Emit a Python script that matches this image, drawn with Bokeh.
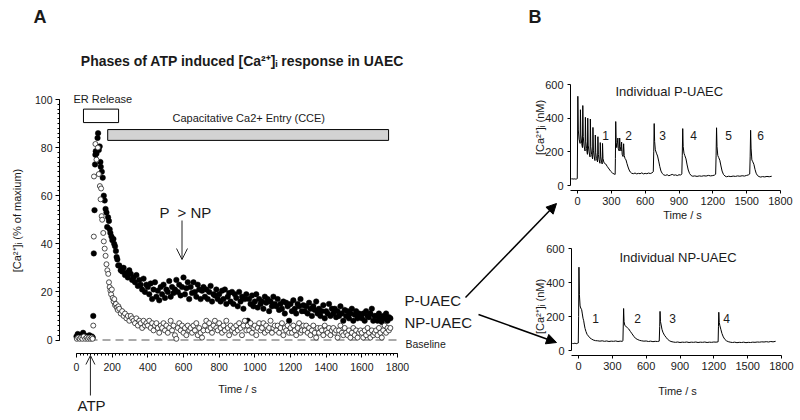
import math
from bokeh.plotting import figure
from bokeh.models import Range1d, LinearAxis, FixedTicker, Arrow, OpenHead, NormalHead
from bokeh.core.properties import value
from bokeh.embed import file_html
from bokeh.resources import INLINE

# ---------------- Panel A data: % of maximum [Ca2+]i ----------------
p_rise_time = [0, 7, 14, 21, 28, 37, 44, 51, 58, 65, 72, 79, 86, 91,
               94, 97, 101, 104, 106, 108, 112, 118, 121, 125,
               130, 134, 136, 142, 147, 153, 158, 163, 168, 172,
               177, 182, 186, 190, 196, 201, 207, 211, 216, 221,
               225, 229, 234]
p_rise = [1.5, 2.5, 1, 2, 1.5, 3, 2, 1, 1.5, 1, 2, 1, 1.5, 1,
          10, 36, 54, 73, 77, 78.5, 77.5, 84, 86, 79,
          80.5, 74, 72, 70, 67.5, 60, 58, 54.5, 53, 47,
          51, 49.5, 46, 44.5, 43, 41.5, 42, 40, 39, 37,
          34.5, 33.5, 31]

np_rise_time = [2, 10, 18, 26, 33, 41, 49, 57, 64, 71, 78, 85, 90,
                94, 97, 98, 106, 112, 120, 125, 131, 135, 138,
                141, 144, 150, 153, 158, 163, 168, 173, 178, 182,
                186, 190, 194, 198, 203, 208, 212, 216, 221, 226,
                231, 235]
np_rise = [0.5, 1, 0.5, 1, 0.5, 1.5, 0.5, 1, 0.5, 1, 0.5, 1, 0.5,
           6, 43, 68, 81.5, 75, 80, 69, 64, 58.5, 63,
           51.5, 50, 44.5, 41, 38, 35, 31.5, 29, 27.5, 24,
           22, 20.5, 19, 21, 17.5, 16, 17, 14.5, 15, 13.5,
           12.5, 14]

tail_time = [240, 248, 256, 264, 272, 280, 288, 296, 304, 312,
             320, 328, 336, 344, 352, 360, 368, 376, 384, 392,
             400, 408, 416, 424, 432, 440, 448, 456, 464, 472,
             480, 488, 496, 504, 512, 520, 528, 536, 544, 552,
             560, 568, 576, 584, 592, 600, 608, 616, 624, 632,
             640, 648, 656, 664, 672, 680, 688, 696, 704, 712,
             720, 728, 736, 744, 752, 760, 768, 776, 784, 792,
             800, 808, 816, 824, 832, 840, 848, 856, 864, 872,
             880, 888, 896, 904, 912, 920, 928, 936, 944, 952,
             960, 968, 976, 984, 992, 1000, 1008, 1016, 1024, 1032,
             1040, 1048, 1056, 1064, 1072, 1080, 1088, 1096, 1104, 1112,
             1120, 1128, 1136, 1144, 1152, 1160, 1168, 1176, 1184, 1192,
             1200, 1208, 1216, 1224, 1232, 1240, 1248, 1256, 1264, 1272,
             1280, 1288, 1296, 1304, 1312, 1320, 1328, 1336, 1344, 1352,
             1360, 1368, 1376, 1384, 1392, 1400, 1408, 1416, 1424, 1432,
             1440, 1448, 1456, 1464, 1472, 1480, 1488, 1496, 1504, 1512,
             1520, 1528, 1536, 1544, 1552, 1560, 1568, 1576, 1584, 1592,
             1600, 1608, 1616, 1624, 1632, 1640, 1648, 1656, 1664, 1672,
             1680, 1688, 1696, 1704, 1712, 1720, 1728, 1736, 1744, 1752,
             1760]

p_tail = [31, 29, 28.5, 30, 27, 28, 26, 29, 27.5, 25,
          26, 24, 27, 22.5, 25, 23, 21, 25.5, 20, 23,
          22, 19, 23.5, 17, 21, 24, 18, 20.5, 16.5, 22,
          19, 23, 17.5, 21, 20, 24.5, 18, 22, 19.5, 21,
          25, 20, 23, 18.5, 22, 26, 19, 21.5, 24, 17,
          22, 19.5, 24, 20, 18, 23, 21, 17, 20.5, 22,
          18, 21, 17, 20, 22.5, 16, 19, 18.5, 21, 17,
          19, 16, 20.5, 17, 21, 15, 18, 19.5, 16, 20,
          15, 19, 17.5, 14, 20, 16, 18, 13, 17, 19,
          8, 17, 15, 18.5, 14, 16, 19, 13.5, 17, 15,
          16, 13, 18, 15.5, 17, 12, 16, 14, 18, 15,
          14, 17, 12.5, 15, 13, 16, 11, 15.5, 14, 8,
          15, 12, 16.5, 13, 11, 15, 14, 17, 12, 14.5,
          12, 14, 11, 15.5, 13, 10, 14, 12.5, 16, 11,
          13, 10, 12, 14.5, 9, 12, 11, 15, 10, 13,
          11, 13, 9.5, 12, 10, 14, 11, 8, 12.5, 10,
          12, 9, 11, 13, 8, 10.5, 12, 9, 11, 10,
          9, 11, 8, 12, 10, 9.5, 11, 13, 8, 10,
          10, 8, 11, 9, 7.5, 10, 9, 11, 8, 9.5,
          9]

np_tail = [13, 11, 12, 10, 11, 9, 10, 8, 10, 9,
           8, 7, 9, 6, 8, 7, 5, 8, 6, 7,
           6, 8, 5, 7, 4, 6, 7, 5, 3, 6,
           5, 7, 4, 6, 3, 5, 8, 4, 6, 2,
           0.5, 5, 7, 4, 6, 3, 5, 2, 6, 4,
           5, 3, 6, 4, 7, 2, 5, 3, 1, 4,
           6, 8, 4, 7, 5, 3, 6, 8, 5, 4,
           7, 5, 3, 6, 4, 8, 5, 2, 6, 4,
           5, 3, 6, 4, 7, 5, 2, 6, 8, 4,
           6, 4, 7, 3, 5, 6, 2, 5, 7, 4,
           5, 7, 3, 6, 4, 5, 8, 3, 5, 6,
           4, 6, 3, 5, 7, 2, 5, 4, 6, 3,
           5, 3, 6, 4, 2, 5, 7, 3, 4, 6,
           4, 6, 3, 5, 2, 4, 6, 3, 1, 5,
           3, 5, 4, 2, 6, 4, 3, 5, 2, 4,
           5, 3, 4, 1, 4, 6, 3, 2, 5, 3,
           2, 4, 1, 3, 5, 2, 4, 1, 3, 4,
           3, 1, 4, 2, 5, 3, 1, 4, 2, 3,
           4, 2, 5, 3, 1, 4, 6, 3, 5, 4,
           5]

phase_names = ["ER Release", "Capacitative Ca2+ Entry (CCE)"]
phase_start = [39, 175]
phase_end = [236, 1750]
phase_bottom = [90.4, 83]
phase_top = [96, 87.5]
phase_fill = ["white", "#d3d3d3"]
atp_time = 78
baseline_level = 0

a_x_ticks = [0, 200, 400, 600, 800, 1000, 1200, 1400, 1600, 1800]
a_y_ticks = [0, 20, 40, 60, 80, 100]

# ---------------- Panel B data: individual cells, nM ----------------
b1_time = [-55, -48, -40, -32, -24, -16, -8, -2, 1, 3,
           7, 14, 23, 26, 30, 37, 44, 47, 51, 58,
           67, 70, 74, 80, 88, 91, 95, 102, 111, 114,
           118, 125, 134, 137, 141, 147, 155, 158, 162, 168,
           178, 181, 185, 191, 199, 202, 206, 212, 219, 222,
           226, 235, 250, 265, 280, 295, 310, 325, 334, 336,
           339, 343, 348, 355, 358, 362, 370, 374, 378, 386,
           391, 396, 404, 409, 414, 422, 430, 438, 448, 458,
           468, 480, 495, 510, 525, 540, 555, 570, 585, 600,
           615, 630, 645, 660, 672, 676, 680, 684, 690, 700,
           710, 720, 730, 740, 752, 765, 780, 795, 810, 825,
           840, 855, 870, 885, 900, 915, 925, 929, 933, 937,
           944, 952, 962, 972, 982, 994, 1008, 1022, 1040, 1060,
           1080, 1100, 1120, 1140, 1160, 1180, 1200, 1215, 1225, 1229,
           1233, 1237, 1244, 1252, 1262, 1272, 1282, 1294, 1308, 1322,
           1340, 1360, 1380, 1400, 1420, 1440, 1460, 1480, 1500, 1515,
           1527, 1531, 1535, 1539, 1546, 1554, 1564, 1574, 1584, 1596,
           1610, 1625, 1640, 1660, 1680, 1700, 1722]
b1_nm = [40, 38, 41, 37, 40, 38, 39, 41, 300, 530,
         330, 275, 250, 450, 300, 250, 225, 475, 290, 235,
         205, 405, 260, 220, 185, 400, 240, 200, 170, 395,
         230, 185, 158, 345, 210, 175, 148, 300, 195, 160,
         140, 290, 185, 155, 132, 255, 170, 145, 128, 250,
         160, 135, 128, 112, 98, 84, 74, 68, 66, 160,
         380, 255, 225, 265, 282, 218, 205, 282, 232, 205,
         258, 185, 172, 248, 178, 160, 152, 132, 110, 92,
         80, 73, 70, 74, 69, 72, 70, 75, 69, 72,
         70, 74, 71, 75, 82, 200, 368, 262, 212, 192,
         175, 145, 112, 86, 71, 63, 60, 64, 58, 62,
         66, 61, 63, 59, 64, 62, 69, 180, 338, 232,
         192, 177, 158, 122, 92, 71, 59, 55, 57, 54,
         57, 55, 58, 56, 60, 57, 59, 62, 67, 180,
         343, 232, 178, 166, 150, 116, 86, 66, 56, 52,
         55, 53, 56, 54, 57, 55, 58, 56, 60, 63,
         68, 170, 328, 222, 152, 141, 126, 96, 73, 59,
         53, 50, 53, 51, 54, 52, 55]

b2_time = [-55, -47, -39, -31, -23, -15, -7, -2, 1, 4,
           8, 14, 20, 28, 34, 40, 46, 52, 58, 66,
           76, 88, 100, 115, 130, 150, 170, 190, 210, 230,
           250, 270, 290, 310, 330, 350, 370, 388, 394, 397,
           400, 404, 411, 420, 432, 445, 460, 475, 490, 505,
           520, 540, 560, 580, 600, 620, 640, 660, 680, 700,
           716, 720, 723, 727, 733, 740, 748, 762, 776, 790,
           805, 820, 840, 860, 880, 900, 920, 940, 960, 980,
           1000, 1020, 1040, 1060, 1080, 1100, 1120, 1140, 1160, 1180,
           1200, 1220, 1238, 1241, 1244, 1248, 1254, 1262, 1272, 1284,
           1298, 1312, 1328, 1345, 1365, 1385, 1405, 1425, 1445, 1465,
           1485, 1505, 1525, 1545, 1565, 1585, 1605, 1625, 1645, 1665,
           1685, 1705, 1725, 1748]
b2_nm = [42, 40, 43, 41, 42, 40, 43, 44, 200, 490,
         330, 262, 250, 240, 215, 190, 175, 150, 130, 112,
         95, 85, 75, 68, 62, 58, 57, 55, 57, 54,
         56, 53, 55, 54, 56, 53, 55, 54, 57, 150,
         247, 170, 147, 142, 135, 127, 112, 98, 84, 72,
         66, 60, 57, 55, 56, 53, 55, 52, 54, 53,
         55, 140, 230, 170, 150, 125, 108, 90, 78, 66,
         58, 53, 50, 48, 50, 47, 49, 48, 50, 47,
         49, 48, 50, 47, 49, 48, 50, 47, 49, 48,
         50, 49, 51, 140, 225, 165, 145, 125, 100, 80,
         65, 57, 52, 49, 47, 49, 46, 48, 47, 49,
         46, 48, 47, 49, 48, 50, 49, 51, 50, 52,
         50, 53, 51, 54]

b_x_ticks = [0, 300, 600, 900, 1200, 1500, 1800]
b_y_ticks = [0, 200, 400, 600]
b1_phase_labels = ["1", "2", "3", "4", "5", "6"]
b2_phase_labels = ["1", "2", "3", "4"]

# ---------------- layout helpers (page pixels) ----------------
W, H = 800, 420
OFF = 0
FONT = "Liberation Sans"
INK = "#1a1a1a"


def hrange(v1, p1, v2, p2):
    k = (p2 - p1) / (v2 - v1)
    s = v1 - (p1 - OFF) / k
    return Range1d(s, s + W / k)


def vrange(v1, p1, v2, p2):
    k = (p1 - p2) / (v2 - v1)
    e = v1 + (p1 - OFF) / k
    return Range1d(e - H / k, e)


p = figure(width=W, height=H, output_backend="svg", toolbar_location=None,
           x_range=Range1d(OFF, OFF + W), y_range=Range1d(OFF + H, OFF),
           x_axis_type=None, y_axis_type=None, min_border=0,
           outline_line_color=None, background_fill_color="white",
           border_fill_color="white")

p.extra_x_ranges = {"ax": hrange(0, 76, 1800, 397),
                    "b1x": hrange(0, 577, 1800, 780),
                    "b2x": hrange(0, 578, 1800, 781)}
p.extra_y_ranges = {"ay": vrange(0, 339.5, 100, 99),
                    "b1y": vrange(0, 185, 600, 84),
                    "b2y": vrange(0, 350, 600, 248)}


def px_to_x(name, px):
    r = p.extra_x_ranges[name]
    return r.start + (px - OFF) * (r.end - r.start) / W


def py_to_y(name, py):
    r = p.extra_y_ranges[name]
    return r.end - (py - OFF) * (r.end - r.start) / H


def add_axes(xn, yn, x_axis_py, y_axis_px, xb, yb, xt, xminor, yt, yminor,
             xfs, yfs, tick_out, xstand, ystand):
    xa = LinearAxis(x_range_name=xn, y_range_name=yn,
                    fixed_location=py_to_y(yn, x_axis_py), bounds=xb,
                    ticker=FixedTicker(ticks=xt, minor_ticks=xminor))
    ya = LinearAxis(x_range_name=xn, y_range_name=yn,
                    fixed_location=px_to_x(xn, y_axis_px), bounds=yb,
                    ticker=FixedTicker(ticks=yt, minor_ticks=yminor))
    for a, fs, st in ((xa, xfs, xstand), (ya, yfs, ystand)):
        a.axis_line_color = "black"
        a.axis_line_width = 1
        a.major_tick_line_color = "black"
        a.minor_tick_line_color = "black"
        a.major_tick_in = 0
        a.major_tick_out = tick_out
        a.minor_tick_in = 0
        a.minor_tick_out = 2
        a.major_label_text_font = FONT
        a.major_label_text_font_size = fs
        a.major_label_text_color = INK
        a.major_label_standoff = st
    p.add_layout(xa, "below")
    p.add_layout(ya, "left")


add_axes("ax", "ay", 353, 59, (0, 1800), (0, 100),
         a_x_ticks, list(range(0, 1801, 20)), a_y_ticks, list(range(0, 101, 2)),
         "10.5px", "10.5px", 4, 5, 3)
add_axes("b1x", "b1y", 190, 570, (-60, 1800), (0, 600),
         b_x_ticks, [], b_y_ticks, [], "11px", "11px", 3, 3, 4)
add_axes("b2x", "b2y", 355, 571, (-60, 1800), (0, 600),
         b_x_ticks, [], b_y_ticks, [], "11px", "11px", 3, 3, 4)

# ---------------- Panel A marks ----------------
p.quad(left=phase_start, right=phase_end, bottom=phase_bottom, top=phase_top,
       fill_color=phase_fill, line_color="black", line_width=1,
       x_range_name="ax", y_range_name="ay")
p.segment(x0=[a_x_ticks[0]], y0=[baseline_level], x1=[a_x_ticks[-1]], y1=[baseline_level],
          line_color="#555555", line_width=1, line_dash="8 5",
          x_range_name="ax", y_range_name="ay")

p.scatter(p_rise_time + tail_time, p_rise + p_tail, marker="circle", size=5.5,
          fill_color="black", line_color="black", line_width=0.5,
          x_range_name="ax", y_range_name="ay")
p.scatter(np_rise_time + tail_time, np_rise + np_tail, marker="circle", size=5,
          fill_color="white", line_color="#222222", line_width=0.8,
          x_range_name="ax", y_range_name="ay")

# ATP arrow (open head) at the stimulation time
p.add_layout(Arrow(end=OpenHead(size=9, line_color="#222222", line_width=1),
                   x_start=atp_time, y_start=py_to_y("ay", 395),
                   x_end=atp_time, y_end=py_to_y("ay", 355),
                   line_color="#222222", line_width=1,
                   x_range_name="ax", y_range_name="ay"))
# P > NP arrow
p.add_layout(Arrow(end=OpenHead(size=11, line_color="#222222", line_width=1),
                   x_start=181.5, y_start=220, x_end=181.5, y_end=259,
                   line_color="#222222", line_width=1))
# arrows to panel B
for xs, ys, xe, ye in ((465, 297, 556, 203), (478, 314, 556, 342)):
    p.add_layout(Arrow(end=NormalHead(size=10, fill_color="black", line_color="black"),
                       x_start=xs, y_start=ys, x_end=xe, y_end=ye,
                       line_color="black", line_width=1.5))

# ---------------- Panel B traces ----------------
p.line(b1_time, b1_nm, line_color="black", line_width=1,
       x_range_name="b1x", y_range_name="b1y")
p.line(b2_time, b2_nm, line_color="black", line_width=1,
       x_range_name="b2x", y_range_name="b2y")


# ---------------- texts ----------------
def txt(xs, ys, texts, size, align="left", bold=False, angle=0.0):
    p.text(x=xs, y=ys, text=texts, text_font=value(FONT), text_font_size=size,
           text_align=align, text_baseline="middle", text_color=INK,
           text_font_style="bold" if bold else "normal", angle=angle)


txt([33, 528], [16, 16], ["A", "B"], "18px", bold=True)
txt([242], [60], ["Phases of ATP induced [Ca\u00b2\u207a]\u1d62 response in UAEC"], "14px",
    align="center", bold=True)
txt([73, 172], [98, 117], phase_names, "11px")
txt([159, 77, 404, 404], [212, 405, 300, 322],
    ["P \u00a0> NP", "ATP", "P-UAEC", "NP-UAEC"], "15px")
txt([405], [343], ["Baseline"], "10.5px")
txt([237, 682, 677], [388, 214, 390], ["Time / s", "Time / s", "Time / s"], "11px", align="center")
txt([16, 539, 539], [220, 127, 306],
    ["[Ca\u00b2\u207a]\u1d62 (% of maxium)", "[Ca\u00b2\u207a]\u1d62 (nM)", "[Ca\u00b2\u207a]\u1d62 (nM)"],
    "11px", align="center", angle=math.pi / 2)
txt([615, 619], [91, 257], ["Individual P-UAEC", "Individual NP-UAEC"], "13px")
txt([605, 628, 662, 693, 728, 760], [135] * 6, b1_phase_labels, "12px", align="center")
txt([595, 637, 672, 726], [318] * 4, b2_phase_labels, "12px", align="center")

open("out.html", "w").write(file_html(p, INLINE))
